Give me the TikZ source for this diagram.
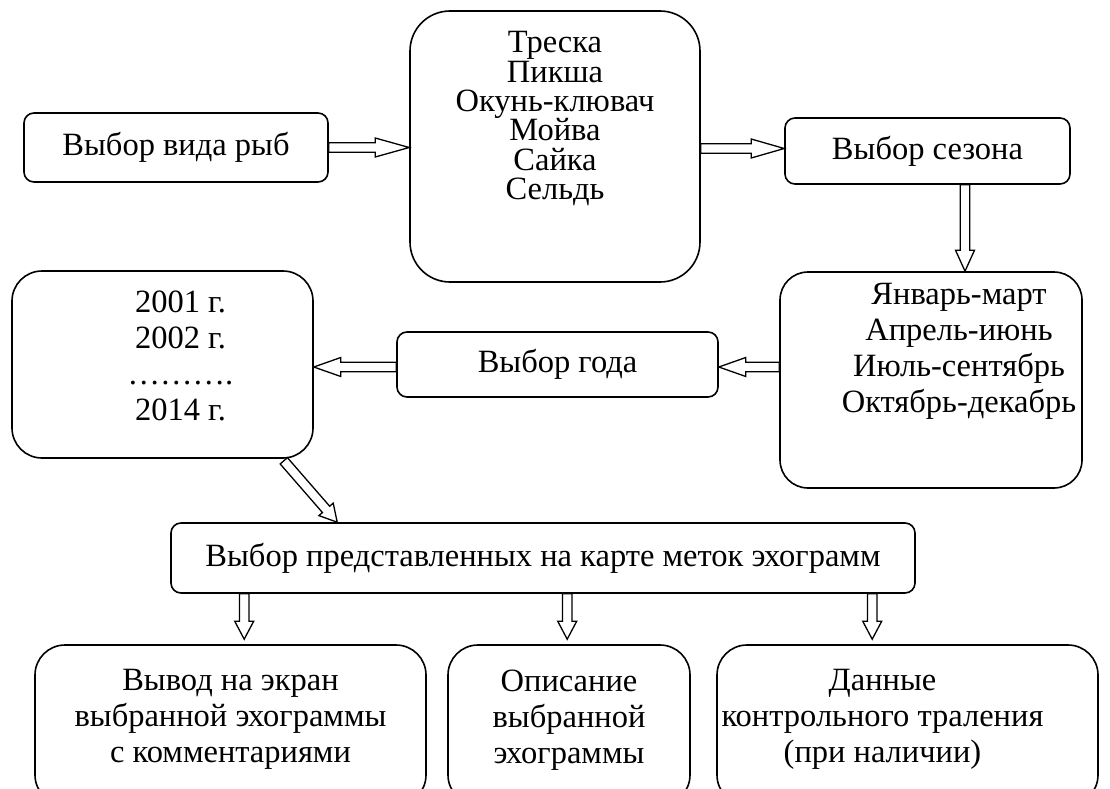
\documentclass[tikz,border=0pt]{standalone}
\usepackage{fontspec}
\setmainfont{Liberation Serif}
\usetikzlibrary{calc,positioning}
\tikzset{
  bloque/.style={draw,line width=1.6pt,rounded corners=10pt,inner sep=0pt,
                 align=center,font=\fontsize{32.5}{36}\selectfont},
  texto/.style={align=center,inner sep=0pt,font=\fontsize{32.5}{36}\selectfont},
  hueca/.style={draw,line width=1.3pt,line join=miter,fill=white},
}
% flecha hueca: [largo de la punta]{origen}{destino}
\newcommand\flechah[3][20]{%
  \path (#2) coordinate (fa);
  \path (#3) coordinate (fb);
  \path ($(fb)!#1pt!(fa)$) coordinate (fc);
  \draw[hueca] ($(fa)!4.8pt!90:(fb)$) -- ($(fc)!4.8pt!90:(fb)$)
    -- ($(fc)!9.5pt!90:(fb)$) -- (fb) -- ($(fc)!9.5pt!-90:(fb)$)
    -- ($(fc)!4.8pt!-90:(fb)$) -- ($(fa)!4.8pt!-90:(fb)$) -- cycle;
}

\begin{document}
\begin{tikzpicture}[x=1pt,y=-1pt]
\clip (0,0) rectangle (1110,789);

% fila superior
\node[bloque,minimum width=304pt,minimum height=69pt] (especie) at (176,147.5) {Выбор вида рыб};
\node[bloque,rounded corners=40pt,minimum width=290pt,minimum height=271pt] (peces) at (555,146.5) {};
\node[texto,font=\fontsize{32.5}{29.4}\selectfont] (peces-t) at ($(peces.north)+(0,108.5)$)
  {Треска\\Пикша\\Окунь-клювач\\Мойва\\Сайка\\Сельдь};
\node[bloque,minimum width=285pt,minimum height=66pt] (temporada) at (927.5,151) {Выбор сезона};

% fila central
\node[bloque,rounded corners=28pt,minimum width=302pt,minimum height=216pt] (estaciones) at (931,380) {};
\node[texto] (estaciones-t) at ($(estaciones.north)+(28,80)$)
  {Январь-март\\Апрель-июнь\\Июль-сентябрь\\Октябрь-декабрь};
\node[bloque,minimum width=321pt,minimum height=65pt] (anio) at (557.5,364.5) {Выбор года};
\node[bloque,rounded corners=30pt,minimum width=301pt,minimum height=187pt] (anios) at (162.5,364.5) {};
\node[texto] (anios-t) at ($(anios.north)+(18,86)$)
  {2001 г.\\2002 г.\\……….\\2014 г.};

% marcas y salidas
\node[bloque,minimum width=744pt,minimum height=70pt] (marcas) at (543,558)
  {Выбор представленных на карте меток эхограмм};
\node[bloque,rounded corners=30pt,minimum width=391pt,minimum height=160pt] (salida) at (230.5,725) {};
\node[texto] (salida-t) at ($(salida.north)+(0,75.5)$)
  {Вывод на экран\\выбранной эхограммы\\с комментариями};
\node[bloque,rounded corners=30pt,minimum width=242pt,minimum height=160pt] (descripcion) at (569,725) {};
\node[texto] (descripcion-t) at ($(descripcion.north)+(0,75.5)$)
  {Описание\\выбранной\\эхограммы};
\node[bloque,rounded corners=30pt,minimum width=381pt,minimum height=160pt] (traleo) at (907.5,725) {};
\node[texto] (traleo-t) at ($(traleo.north)+(-25,75.5)$)
  {Данные\\контрольного траления\\(при наличии)};

% flechas
\flechah[34]{especie.east}{fa -| peces.west}
\flechah[33]{$(peces.east)+(0,2)$}{fa -| temporada.west}
\flechah[21]{$(temporada.south)+(37.5,0)$}{fa |- estaciones.north}
\flechah[27]{$(estaciones.west)+(0,-13)$}{fa -| anio.east}
\flechah[27]{$(anio.west)+(0,2.5)$}{fa -| anios.east}
\flechah[17]{$(anios.south east)+(-30,2)$}{$(marcas.north west)+(167,0)$}
\flechah[18]{$(marcas.south west)+(74,0)$}{$(fa |- salida.north)+(0,-5)$}
\flechah[18]{$(marcas.south west)+(397,0)$}{$(fa |- descripcion.north)+(0,-5)$}
\flechah[18]{$(marcas.south west)+(702,0)$}{$(fa |- traleo.north)+(0,-5)$}

\end{tikzpicture}
\end{document}
